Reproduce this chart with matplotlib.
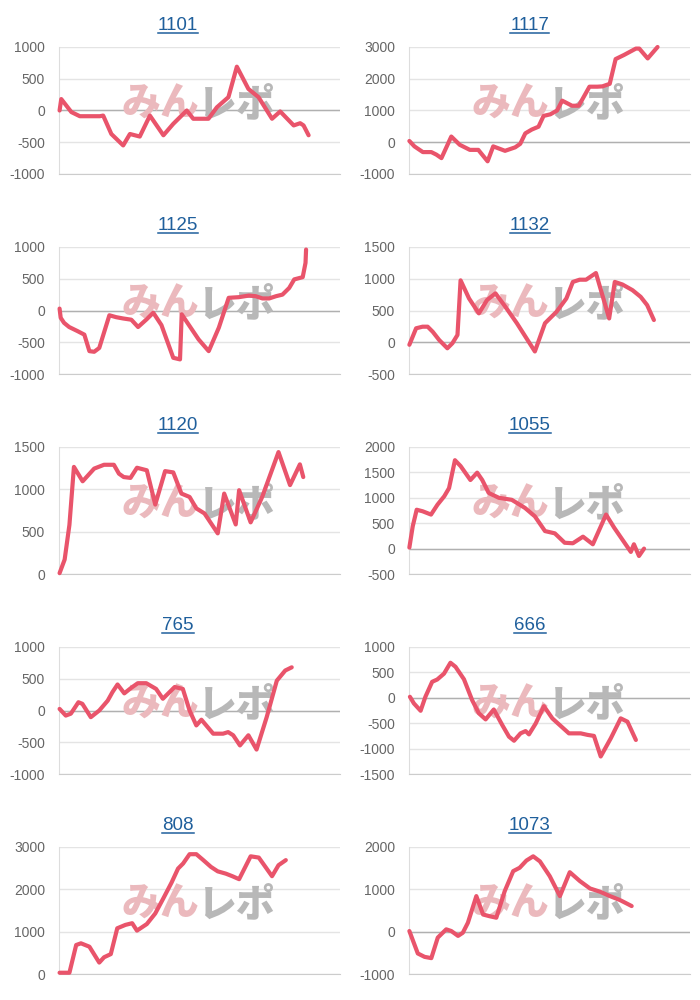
import matplotlib
matplotlib.use('Agg')
import matplotlib.pyplot as plt
from matplotlib.lines import Line2D

plt.rcParams['font.family'] = ['Liberation Sans', 'DejaVu Sans']

# x = position along the session (0-100 = full axis width), y = diff coins
x_1101 = [0.2, 0.8, 4.4, 7.4, 14.5, 15.7, 18.6, 22.8, 25.2, 28.7, 32.3, 37.1, 40.6, 45.4, 47.7, 53.1,
          56.1, 60.2, 63.2, 67.3, 70.9, 75.7, 78.6, 83.4, 85.7, 86.9, 88.7]
y_1101 = [0, 180, -25, -90, -90, -80, -370, -550, -370, -410, -80, -390, -210, 0, -130, -130,
          50, 210, 690, 340, 210, -130, -15, -235, -200, -235, -390]

x_1117 = [0.2, 2.0, 5.0, 8.0, 9.8, 11.6, 15.1, 18.1, 21.7, 24.7, 28.0, 30.0, 34.2, 37.8, 39.6, 41.4, 43.7,
          46.1, 47.9, 50.3, 52.7, 54.5, 58.0, 60.4, 64.2, 67.0, 68.8, 71.4, 73.5, 76.5, 80.7, 81.9, 84.9, 88.4]
y_1117 = [40, -130, -310, -310, -390, -500, 180, -80, -240, -240, -600, -130, -270, -160, -50, 280, 400,
          490, 830, 880, 1000, 1310, 1150, 1150, 1750, 1750, 1760, 1840, 2620, 2750, 2950, 2950, 2640, 3000]

x_1125 = [0.2, 0.6, 1.8, 3.6, 6.6, 9.0, 10.8, 12.5, 14.3, 17.9, 20.3, 22.7, 25.7, 28.1, 31.1, 33.5, 36.4,
          40.6, 43.0, 43.6, 49.6, 53.2, 56.8, 60.3, 63.9, 67.5, 69.9, 72.3, 74.7, 77.1, 79.4, 81.8, 83.6,
          86.6, 87.6, 87.8]
y_1125 = [30, -115, -195, -260, -325, -380, -640, -650, -590, -75, -105, -125, -145, -260, -140, -35, -230,
          -745, -770, -60, -455, -640, -270, 200, 210, 235, 225, 190, 190, 225, 250, 355, 490,
          525, 750, 960]

x_1132 = [0.2, 2.6, 4.9, 6.7, 8.5, 10.8, 13.7, 15.5, 17.3, 18.4, 21.4, 24.9, 27.8, 30.8, 34.3, 38.4,
          44.8, 48.4, 52.5, 56.0, 58.3, 60.7, 63.0, 66.5, 71.2, 73.2, 75.9, 79.5, 82.4, 84.7, 87.1]
y_1132 = [-40, 220, 245, 245, 165, 35, -95, -15, 115, 975, 690, 455, 665, 770, 560, 300,
          -145, 300, 480, 690, 950, 985, 985, 1090, 375, 950, 910, 820, 715, 585, 350]

x_1120 = [0.2, 2.0, 3.7, 5.3, 8.4, 12.5, 16.0, 19.5, 21.3, 23.0, 25.4, 27.7, 31.2, 34.2, 37.7, 40.6,
          43.5, 46.4, 48.8, 51.7, 56.4, 58.7, 62.8, 64.0, 68.1, 72.2, 78.0, 82.1, 85.6, 86.8]
y_1120 = [10, 170, 580, 1265, 1095, 1245, 1290, 1290, 1185, 1145, 1135, 1255, 1225, 820, 1215, 1200,
          950, 910, 775, 715, 480, 950, 585, 990, 610, 910, 1440, 1050, 1295, 1145]

x_1055 = [0.2, 1.4, 2.8, 4.9, 7.9, 10.2, 12.6, 14.3, 16.4, 18.4, 21.9, 24.3, 26.1, 28.4, 32.0, 36.6,
          41.3, 44.8, 48.4, 51.9, 55.4, 58.3, 61.9, 65.4, 70.1, 73.0, 78.9, 80.0, 81.8, 83.6]
y_1055 = [20, 440, 765, 735, 670, 865, 1030, 1190, 1740, 1625, 1350, 1495, 1350, 1095, 1000, 960,
          800, 635, 345, 300, 115, 105, 235, 85, 670, 410, -65, 85, -145, 0]

x_765 = [0.2, 2.4, 4.2, 6.9, 8.3, 11.3, 14.3, 17.3, 19.0, 20.8, 23.2, 25.6, 28.0, 31.0, 34.5, 36.9, 39.3,
         41.1, 44.0, 46.4, 48.8, 50.6, 54.8, 58.3, 60.1, 61.9, 64.3, 67.3, 70.2, 73.8, 77.4, 80.4, 82.7]
y_765 = [25, -80, -50, 130, 105, -105, 0, 155, 290, 410, 270, 355, 430, 430, 340, 185, 290,
         370, 340, 0, -235, -145, -365, -365, -340, -390, -550, -390, -615, -105, 470, 630, 680]

x_666 = [0.4, 1.8, 4.2, 5.9, 8.3, 10.1, 12.5, 14.8, 16.6, 19.6, 22.5, 24.9, 27.3, 30.2, 33.2, 35.6, 37.4,
         39.7, 41.5, 42.7, 45.1, 48.0, 51.0, 54.0, 56.9, 61.1, 63.5, 65.8, 68.2, 71.8, 75.3, 77.7, 80.7]
y_666 = [20, -110, -255, 20, 315, 360, 475, 690, 610, 365, -45, -305, -425, -230, -535, -765, -845,
         -700, -655, -720, -505, -165, -405, -555, -700, -700, -730, -750, -1155, -795, -405, -470, -830]

x_808 = [0.2, 3.7, 6.1, 7.8, 10.8, 14.3, 16.0, 18.4, 20.7, 23.6, 26.0, 27.7, 31.2, 34.2, 37.1, 40.0,
         42.3, 44.1, 46.4, 48.8, 51.1, 54.0, 56.4, 59.3, 61.6, 64.0, 68.1, 71.0, 75.7, 78.0, 80.6]
y_808 = [30, 30, 685, 725, 645, 270, 395, 470, 1080, 1160, 1200, 1025, 1180, 1430, 1790, 2160,
         2490, 2610, 2830, 2830, 2700, 2530, 2425, 2370, 2310, 2240, 2780, 2750, 2310, 2570, 2690]

x_1073 = [0.2, 3.2, 5.6, 8.0, 10.3, 13.3, 15.1, 17.5, 19.2, 21.0, 24.0, 26.4, 28.7, 31.1, 34.1, 37.1,
          39.4, 41.8, 44.2, 46.6, 50.1, 53.7, 57.2, 60.8, 64.4, 67.9, 71.5, 75.1, 79.2]
y_1073 = [15, -515, -595, -625, -140, 55, 15, -100, -25, 210, 840, 405, 365, 330, 960, 1430,
          1510, 1680, 1780, 1660, 1310, 840, 1405, 1195, 1020, 945, 840, 745, 605]

titles = ['1101', '1117', '1125', '1132', '1120', '1055', '765', '666', '808', '1073']
xs = [x_1101, x_1117, x_1125, x_1132, x_1120, x_1055, x_765, x_666, x_808, x_1073]
ys = [y_1101, y_1117, y_1125, y_1132, y_1120, y_1055, y_765, y_666, y_808, y_1073]
yranges = [(-1000, 1000, 500), (-1000, 3000, 1000), (-1000, 1000, 500), (-500, 1500, 500),
           (0, 1500, 500), (-500, 2000, 500), (-1000, 1000, 500), (-1500, 1000, 500),
           (0, 3000, 1000), (-1000, 2000, 1000)]

line_color = '#e9546b'
link_color = '#1f5f9c'

fig = plt.figure(figsize=(7, 10), dpi=100)
title_objs = []
for i in range(10):
    row, col = divmod(i, 2)
    left = 0.0843 if col == 0 else 0.584
    bottom = 1 - (174 + 200 * row) / 1000
    ax = fig.add_axes([left, bottom, 0.402, 0.127])
    lo, hi, step = yranges[i]
    ticks = list(range(lo, hi + 1, step))
    ax.set_ylim(lo, hi)
    ax.set_yticks(ticks)
    ax.set_yticklabels([str(t) for t in ticks])
    ax.set_xlim(0, 100)
    ax.set_xticks([])
    ax.tick_params(axis='y', length=0, pad=10, labelsize=10, labelcolor='#666666')
    for s in ['top', 'right']:
        ax.spines[s].set_visible(False)
    ax.spines['left'].set_color('#dddddd')
    ax.spines['bottom'].set_color('#cccccc')
    ax.grid(axis='y', color='#e4e4e4', lw=1)
    ax.set_axisbelow(True)
    if lo < 0:
        ax.axhline(0, color='#b0b0b0', lw=1, zorder=1)

    # watermark
    wm = dict(transform=ax.transAxes, fontsize=28, fontweight='heavy', va='center',
              family=['Noto Sans CJK JP', 'DejaVu Sans'], zorder=2)
    ax.text(0.50, 0.55, 'みん', ha='right', color='#ebb9bd', **wm)
    ax.text(0.49, 0.55, 'レポ', ha='left', color='#b8b8b8', **wm)

    ax.plot(xs[i], ys[i], color=line_color, lw=3, solid_joinstyle='round',
            solid_capstyle='round', clip_on=False, zorder=3)

    tx = 0.254 if col == 0 else 0.757
    ty = 1 - (30.5 + 200 * row) / 1000
    t = fig.text(tx, ty, titles[i], ha='center', va='baseline', fontsize=13.5, color=link_color)
    title_objs.append((t, ty))

# underline the link titles just under the baseline
fig.canvas.draw()
renderer = fig.canvas.get_renderer()
W = fig.bbox.width
for t, ty in title_objs:
    bb = t.get_window_extent(renderer)
    yline = ty - 2.2 / 1000
    fig.add_artist(Line2D([bb.x0 / W, bb.x1 / W], [yline, yline], color=link_color, lw=1.1))

fig.savefig('out.png', dpi=100, facecolor='white')
